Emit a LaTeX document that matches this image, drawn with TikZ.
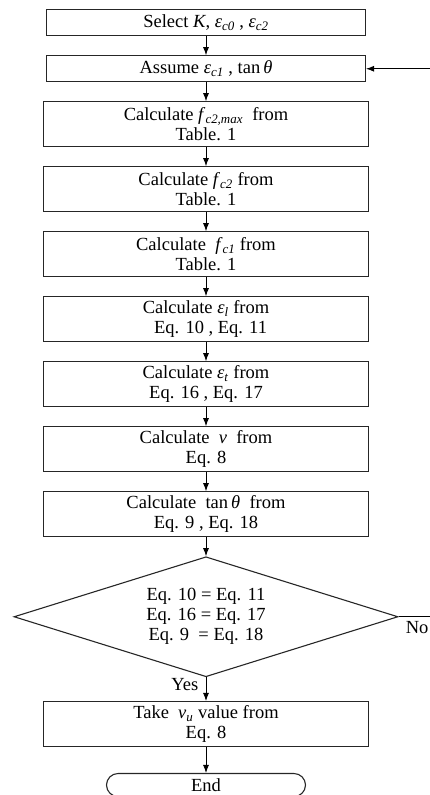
\documentclass[tikz,border=0pt]{standalone}
\usepackage{fontspec}
\setmainfont{Liberation Serif}
\usepackage{tikz}
\usetikzlibrary{arrows.meta,positioning,matrix,shapes.geometric,shapes.misc}

\newcommand{\ivar}[2]{\textit{#1}\textsubscript{\textit{#2}}}

\begin{document}
\begin{tikzpicture}[x=1pt,y=-1pt,font=\fontsize{18.5}{20}\selectfont,
  process/.style={rectangle,draw=black!85,line width=1.1pt,inner sep=1pt,minimum width=325pt,minimum height=45pt,align=center},
  setup/.style={process,minimum width=319pt,minimum height=26pt},
  decision/.style={diamond,draw=black!85,line width=1.1pt,inner sep=0pt,aspect=3.2,minimum width=384pt,minimum height=120pt,align=center},
  terminal/.style={rounded rectangle,draw=black!85,line width=1.1pt,inner sep=0pt,minimum width=199pt,minimum height=23pt},
  flow/.style={line width=0.9pt,-{Latex[length=8pt,width=6pt]}}]
\useasboundingbox (0,0) rectangle (429,795);
\matrix[row sep=18.9pt,anchor=north,inner sep=0pt] at (206,9)
{
\node(sel)[setup]{Select \textit{K}, \ivar{ε}{c0} , \ivar{ε}{c2}};\\
\node(asm)[setup]{Assume \ivar{ε}{c1} , tan\,\textit{θ}};\\
\node(fmax)[process]{Calculate \ivar{f}{c2,max}\ \ from\\Table. 1};\\
\node(fc2)[process]{Calculate \ivar{f}{c2}\ from\\Table. 1};\\
\node(fc1)[process]{Calculate\ \ \ivar{f}{c1}\ from\\Table. 1};\\
\node(epl)[process]{Calculate \ivar{ε}{l}\ from\\\ \ Eq. 10 , Eq. 11};\\
\node(ept)[process]{Calculate \ivar{ε}{t}\ from\\Eq. 16 , Eq. 17};\\
\node(nu)[process]{Calculate\ \ \textit{v}\ \ from\\Eq. 8};\\
\node(tan)[process]{Calculate\ \ tan\,\textit{θ}\ \ from\\Eq. 9 , Eq. 18};\\
\node(dec)[decision]{Eq. 10 = Eq. 11\\Eq. 16 = Eq. 17\\Eq. 9\ \ = Eq. 18};\\[5pt]
\node(take)[process]{Take\ \ \ivar{v}{u} value from\\Eq. 8};\\[7pt]
\node(end)[terminal]{End};\\
};

\coordinate (back) at (445,0);

\draw [flow] (sel) to (asm);
\draw [flow] (asm) to (fmax);
\draw [flow] (fmax) to (fc2);
\draw [flow] (fc2) to (fc1);
\draw [flow] (fc1) to (epl);
\draw [flow] (epl) to (ept);
\draw [flow] (ept) to (nu);
\draw [flow] (nu) to (tan);
\draw [flow] (tan) to (dec);
\draw [flow] (dec) to node[left=4pt,pos=0.3]{Yes} (take);
\draw [flow] (take) to (end);
\draw [flow] (dec.east) -- node[below=1pt,pos=0.4]{No} (dec.east -| back) |- (asm.east);
\end{tikzpicture}
\end{document}
